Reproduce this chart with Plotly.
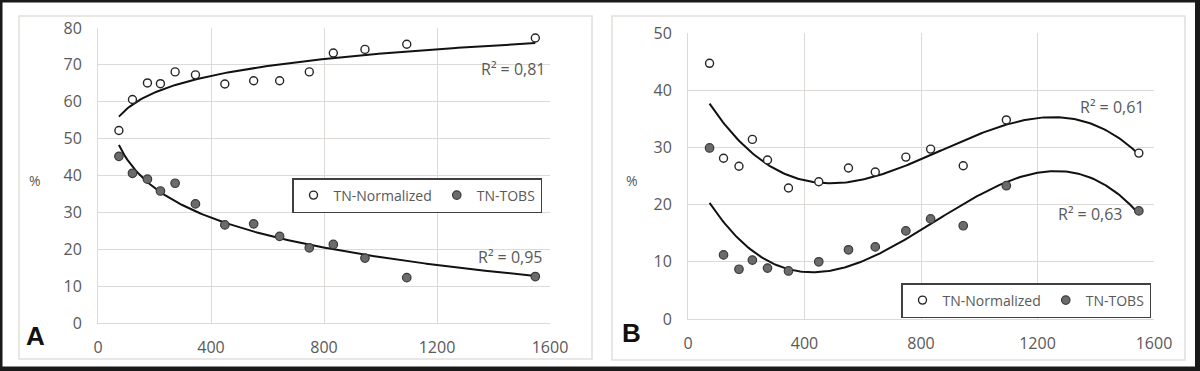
import numpy as np
import plotly.graph_objects as go

W, H = 1200, 371

# shared x positions
x_vals = [74, 122, 175, 221, 273, 345, 449, 551, 643, 748, 833, 945, 1093, 1548]

# panel A
a_norm = [52.2, 60.6, 65.1, 64.9, 68.1, 67.3, 64.8, 65.7, 65.7, 68.1, 73.2, 74.2, 75.6, 77.3]
a_tobs = [45.2, 40.6, 39.0, 35.8, 37.9, 32.3, 26.6, 26.9, 23.5, 20.4, 21.3, 17.6, 12.3, 12.6]

# panel B
b_norm = [44.7, 28.1, 26.7, 31.4, 27.8, 22.9, 24.0, 26.4, 25.7, 28.3, 29.7, 26.8, 34.8, 29.0]
b_tobs = [29.9, 11.2, 8.7, 10.3, 8.9, 8.4, 10.0, 12.1, 12.6, 15.4, 17.5, 16.3, 23.3, 18.9]

r2_labels = {"a_norm": "R² = 0,81", "a_tobs": "R² = 0,95",
             "b_norm": "R² = 0,61", "b_tobs": "R² = 0,63"}

TEXT = "#595959"
GRID = "#dcd9d6"
FONT = "Open Sans"


def px_x(p):
    return p / W


def px_y(p):
    return (H - p) / H


def log_trend(x, y):
    c = np.polyfit(np.log(x), y, 1)
    xs = np.linspace(min(x), max(x), 200)
    return xs, c[0] * np.log(xs) + c[1]


def cubic_trend(x, y):
    c = np.polyfit(x, y, 3)
    xs = np.linspace(min(x), max(x), 200)
    return xs, np.polyval(c, xs)


open_marker = dict(symbol="circle", size=8, color="white",
                   line=dict(color="#262626", width=1.4))
fill_marker = dict(symbol="circle", size=8.5, color="#6b6b6b",
                   line=dict(color="#3a3a3a", width=1.2))

fig = go.Figure()

panels = [
    ("x", "y", "legend", a_norm, a_tobs, log_trend),
    ("x2", "y2", "legend2", b_norm, b_tobs, cubic_trend),
]
for xa, ya, leg, norm, tobs, trend in panels:
    for ys in (norm, tobs):
        tx, ty = trend(x_vals, ys)
        fig.add_trace(go.Scatter(x=tx, y=ty, mode="lines", xaxis=xa, yaxis=ya,
                                 line=dict(color="#111111", width=2),
                                 showlegend=False, hoverinfo="skip"))
    fig.add_trace(go.Scatter(x=x_vals, y=norm, mode="markers", name="TN-Normalized",
                             xaxis=xa, yaxis=ya, marker=open_marker, legend=leg))
    fig.add_trace(go.Scatter(x=x_vals, y=tobs, mode="markers", name="TN-TOBS",
                             xaxis=xa, yaxis=ya, marker=fill_marker, legend=leg))

axis_common = dict(showgrid=True, gridcolor=GRID, gridwidth=1, zeroline=False,
                   showline=True, linecolor=GRID, linewidth=1, ticks="",
                   automargin=False,
                   tickfont=dict(family=FONT, size=16, color=TEXT))

legend_common = dict(xanchor="left", yanchor="top", orientation="h",
                     bordercolor="#404040", borderwidth=1.5, bgcolor="white",
                     font=dict(family=FONT, size=14, color=TEXT),
                     itemwidth=30, tracegroupgap=0)

fig.update_layout(
    template="none",
    xaxis=dict(domain=[px_x(98), px_x(550)], range=[0, 1600], dtick=400,
               anchor="y", ticklabelstandoff=10, **axis_common),
    yaxis=dict(domain=[px_y(323), px_y(28)], range=[0, 80], dtick=10,
               anchor="x", ticklabelstandoff=12, **axis_common),
    xaxis2=dict(domain=[px_x(688), px_x(1154)], range=[0, 1600], dtick=400,
                anchor="y2", ticklabelstandoff=10, **axis_common),
    yaxis2=dict(domain=[px_y(319), px_y(33)], range=[0, 50], dtick=10,
                anchor="x2", ticklabelstandoff=12, **axis_common),
    legend=dict(x=px_x(292), y=px_y(178), **legend_common),
    legend2=dict(x=px_x(901), y=px_y(283), **legend_common),
    width=W, height=H,
    margin=dict(l=0, r=0, t=0, b=0),
    paper_bgcolor="white", plot_bgcolor="white",
    font=dict(family=FONT, color=TEXT),
)

# chart-area frames and outer black border
shapes = [
    dict(type="rect", xref="paper", yref="paper", x0=px_x(19), x1=px_x(592),
         y0=px_y(359), y1=px_y(16), line=dict(color="#e2dfdc", width=1.5)),
    dict(type="rect", xref="paper", yref="paper", x0=px_x(612), x1=px_x(1185),
         y0=px_y(360), y1=px_y(16), line=dict(color="#e2dfdc", width=1.5)),
]
for x0, x1, y0, y1 in [(0, 1200, 0, 2.5), (0, 2.5, 0, 371), (0, 1200, 366.5, 371),
                       (1195, 1200, 0, 371)]:
    shapes.append(dict(type="rect", xref="paper", yref="paper", x0=px_x(x0), x1=px_x(x1),
                       y0=px_y(y1), y1=px_y(y0), fillcolor="#1a1a1a", line=dict(width=0)))
fig.update_layout(shapes=shapes)

ann = []
for text, x, y in [(r2_labels["a_norm"], 547, 69), (r2_labels["a_tobs"], 544, 257),
                   (r2_labels["b_norm"], 1146, 107), (r2_labels["b_tobs"], 1124, 214)]:
    ann.append(dict(text=text, x=px_x(x), y=px_y(y), xref="paper", yref="paper",
                    xanchor="right", yanchor="middle", showarrow=False,
                    font=dict(family=FONT, size=16, color=TEXT)))
for text, x, y in [("%", 35, 180), ("%", 632, 181)]:
    ann.append(dict(text=text, x=px_x(x), y=px_y(y), xref="paper", yref="paper",
                    xanchor="center", yanchor="middle", showarrow=False,
                    font=dict(family=FONT, size=14, color=TEXT)))
for text, x, y in [("A", 35, 336), ("B", 632, 333)]:
    ann.append(dict(text=f"<b>{text}</b>", x=px_x(x), y=px_y(y), xref="paper", yref="paper",
                    xanchor="center", yanchor="middle", showarrow=False,
                    font=dict(family="Liberation Sans", size=26, color="#111111")))
fig.update_layout(annotations=ann)

# page body has an 8px default margin; drop it so the figure fills the window
fig.write_html(
    "out.html",
    config={"displayModeBar": False},
    post_script="document.body.style.margin='0';"
                "document.documentElement.style.overflow='hidden';",
)
